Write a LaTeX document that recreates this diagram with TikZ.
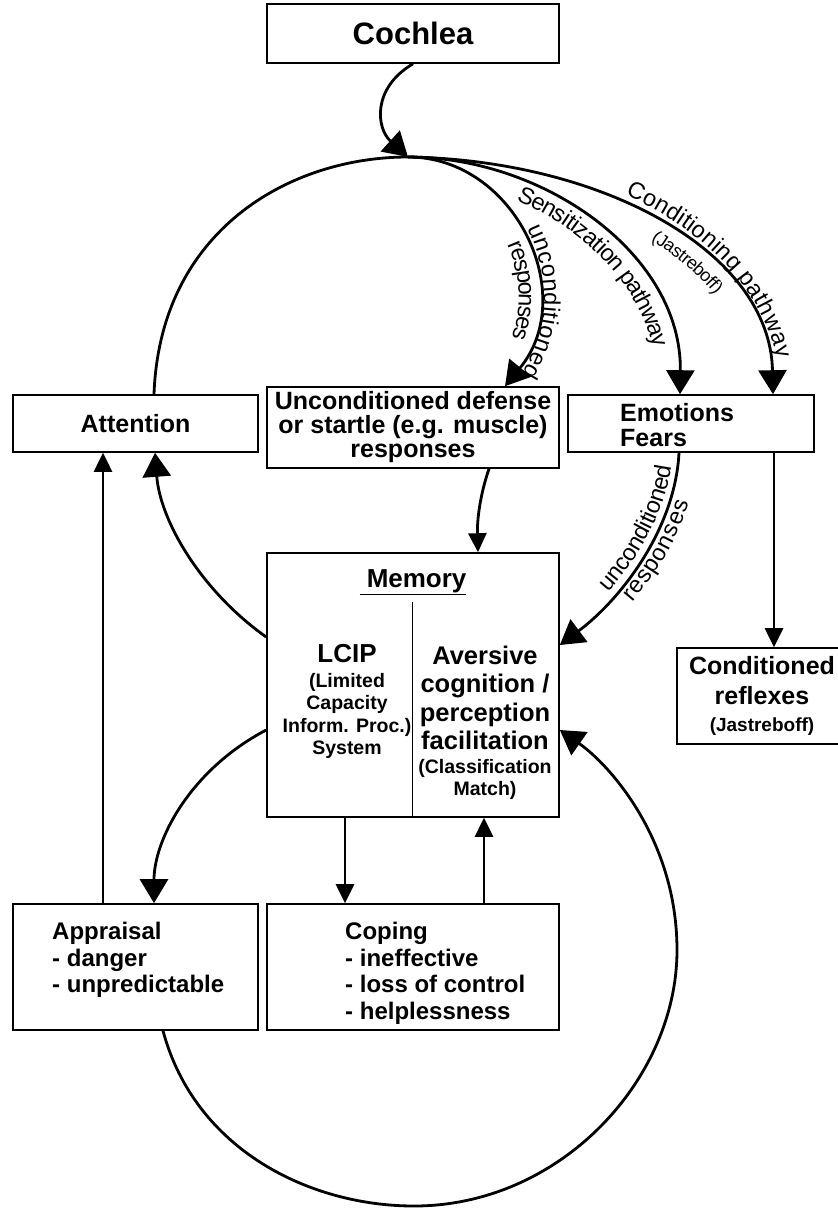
\documentclass[tikz,border=0pt]{standalone}
\usepackage{fontspec}
\setmainfont{Liberation Sans}
\usetikzlibrary{arrows.meta,decorations.text}
\newcommand\arcfont{\fontsize{23.5}{23.5}\selectfont}
\newcommand\arcsmallfont{\fontsize{18}{18}\selectfont}
\begin{document}
\begin{tikzpicture}[x=1pt,y=-1pt,
  box/.style={draw, line width=1.6pt, inner sep=0pt, align=center,
    font=\bfseries\fontsize{25}{24}\selectfont},
  boxtext/.style={inner sep=0pt, align=left, font=\bfseries\fontsize{25}{25}\selectfont},
  conn/.style={line width=2.8pt},
  flow/.style={conn, -{Triangle[length=24pt,width=28pt]}},
  flowsmall/.style={conn, -{Triangle[length=19pt,width=18pt]}},
  divider/.style={line width=0.9pt},
  arclabel/.style={postaction={decorate, decoration={text along path, #1}}}
]
\useasboundingbox (0,0) rectangle (838,1208);
\clip (0,0) rectangle (838,1208);

% ---------- boxes ----------
\node[box, minimum width=292pt, minimum height=59pt, font=\bfseries\fontsize{31}{31}\selectfont]
  (cochlea) at (413,33.5) {Cochlea};
\node[box, minimum width=245pt, minimum height=57pt] (attention) at (135.5,423.5) {Attention};
\node[box, minimum width=292pt, minimum height=81pt] (uncond) at (413,427.5)
  {Unconditioned defense\\or startle (e.g. muscle)\\responses};
\node[box, minimum width=246pt, minimum height=57pt] (emotions) at (691,423.5) {};
\node[boxtext, anchor=north west] (emotions-text) at (620,403) {Emotions\\Fears};
\node[box, minimum width=292pt, minimum height=264pt] (memory) at (413,685) {};
\node[box, minimum width=170pt, minimum height=96pt, font=\bfseries\fontsize{25}{30}\selectfont]
  (reflexes) at (762,696) {Conditioned\\reflexes\\[-3pt]{\fontsize{19}{19}\selectfont (Jastreboff)}};
\node[box, minimum width=245pt, minimum height=126pt] (appraisal) at (135.5,967) {};
\node[boxtext, anchor=north west, font=\bfseries\fontsize{24}{26.5}\selectfont]
  (appraisal-text) at (52,922) {Appraisal\\- danger\\- unpredictable};
\node[box, minimum width=292pt, minimum height=126pt] (coping) at (413,967) {};
\node[boxtext, anchor=north west, font=\bfseries\fontsize{24}{26.5}\selectfont]
  (coping-text) at (345,922) {Coping\\- ineffective\\- loss of control\\- helplessness};

% ---------- inside the memory box ----------
\node[inner sep=0pt, anchor=base, font=\bfseries\fontsize{26}{26}\selectfont]
  (memory-title) at (413,587) {\underline{\ Memory}};
\draw[divider] ([xshift=-1pt,yshift=216pt]memory.south) -- ([xshift=-1pt]memory.south);
\node[inner sep=0pt, anchor=base, font=\bfseries\fontsize{26}{26}\selectfont]
  (lcip) at (347,662) {LCIP};
\node[inner sep=0pt, anchor=north, align=center, font=\bfseries\fontsize{19.5}{22.5}\selectfont]
  (lcip-note) at (347,673) {(Limited\\Capacity\\Inform. Proc.)\\System};
\node[inner sep=0pt, anchor=north, align=center, font=\bfseries\fontsize{25.5}{28.3}\selectfont]
  (aversive) at (485,646) {Aversive\\cognition /\\perception\\facilitation};
\node[inner sep=0pt, anchor=north, align=center, font=\bfseries\fontsize{19.5}{22}\selectfont]
  (aversive-note) at (485,759) {(Classification\\Match)};

% ---------- connectors ----------
\coordinate (hub) at (408,157);
\draw[flow] (cochlea.south) .. controls (372,88) and (376,128) .. (hub);
\draw[conn] ([xshift=18.5pt]attention.north) .. controls (160,230) and (290,157) .. (hub);

% pathways leaving the top of the loop
\draw[flow] (hub) .. controls (515,157) and (580,295) .. ([xshift=92pt]uncond.north);
\path[arclabel={raise=6.5pt, text align={left indent=143pt}, text={|\arcfont|unconditioned}},
      arclabel={raise=-18.5pt, text align={left indent=150pt}, text={|\arcfont|responses}}]
  (hub) .. controls (515,157) and (580,295) .. ([xshift=92pt]uncond.north);

\draw[flow] (hub) .. controls (545,157) and (682,255) .. ([xshift=-11pt]emotions.north);
\path[arclabel={raise=-21.5pt, text align={left indent=120pt}, text={|\arcfont|Sensitization pathway}}]
  (hub) .. controls (545,157) and (682,255) .. ([xshift=-11pt]emotions.north);

\draw[flow] (hub) .. controls (600,160) and (770,250) .. ([xshift=82pt]emotions.north);
\path[arclabel={raise=8pt, text align={left indent=220pt}, text={|\arcfont|Conditioning pathway}},
      arclabel={raise=-20.5pt, text align={left indent=265pt}, text={|\arcsmallfont|(Jastreboff)}}]
  (hub) .. controls (600,160) and (770,250) .. ([xshift=82pt]emotions.north);

% between the boxes
\draw[flowsmall] ([xshift=76pt]uncond.south) .. controls (480,495) and (477,520) .. ([xshift=65pt]memory.north);
\draw[flow] ([yshift=48pt]memory.west) .. controls (200,590) and (160,520) .. ([xshift=19.5pt]attention.south);
\draw[flow] ([yshift=-45pt]memory.west) .. controls (190,770) and (154,840) .. ([xshift=18.5pt]appraisal.north);
\draw[flowsmall] ([xshift=-32.5pt]appraisal.north) -- ([xshift=-32.5pt]attention.south);
\draw[flowsmall] ([xshift=-68pt]memory.south) -- ([xshift=-68pt]coping.north);
\draw[flowsmall] ([xshift=71pt]coping.north) -- ([xshift=71pt]memory.south);
\draw[flowsmall] ([xshift=83pt]emotions.south) -- ([xshift=12pt]reflexes.north);

\draw[flow] ([xshift=-12pt]emotions.south) .. controls (675,530) and (620,600) .. ([yshift=40pt]memory.east);
\path[arclabel={raise=6.5pt, text align={left indent=72pt}, text={|\arcfont|unconditioned}},
      arclabel={raise=-18.5pt, text align={left indent=80pt}, text={|\arcfont|responses}}]
  ([yshift=40pt]memory.east) .. controls (620,600) and (675,530) .. ([xshift=-12pt]emotions.south);

% the lower loop back into memory
\draw[flow] ([xshift=27.5pt]appraisal.south) .. controls (195,1150) and (310,1206) .. (414,1206)
  .. controls (560,1206) and (677,1080) .. (677,950)
  .. controls (677,840) and (610,765) .. ([yshift=-45pt]memory.east);
\end{tikzpicture}
\end{document}
